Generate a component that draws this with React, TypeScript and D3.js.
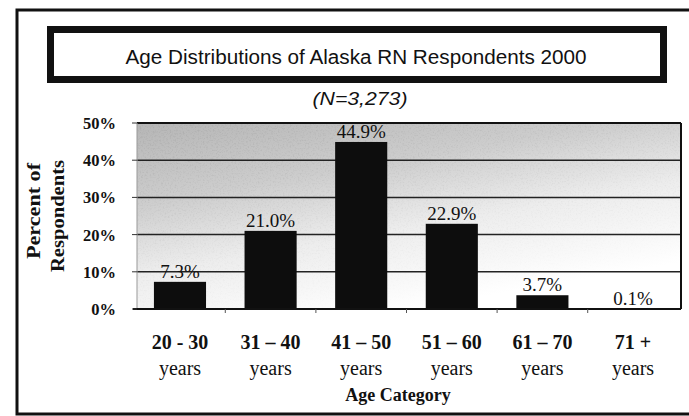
import React from "react";
import * as d3 from "d3";

const title = "Age Distributions of Alaska RN Respondents 2000";
const subtitle = "(N=3,273)";
const categories = ["20 - 30", "31 – 40", "41 – 50", "51 – 60", "61 – 70", "71 +"];
const categorySub = ["years", "years", "years", "years", "years", "years"];
const values = [7.3, 21.0, 44.9, 22.9, 3.7, 0.1];
const yTicks = [0, 10, 20, 30, 40, 50];
const yTitleLines = ["Percent of", "Respondents"];
const xTitle = "Age Category";

const W = 689;
const H = 416;
const plot = { left: 137, right: 681, top: 123, bottom: 309 };
const serif = "'Liberation Serif', 'Times New Roman', serif";
const sans = "'Liberation Sans', Arial, sans-serif";

export default function App() {
  const x = d3
    .scaleBand<string>()
    .domain(categories)
    .range([134, 679])
    .paddingInner(0.425)
    .paddingOuter(0.22);
  const y = d3.scaleLinear().domain([0, 50]).range([plot.bottom, plot.top]);
  const pw = plot.right - plot.left;
  const ph = plot.bottom - plot.top;

  return (
    <svg
      width={W}
      height={H}
      style={{ position: "absolute", left: 0, top: 0, background: "#fff" }}
    >
      <defs>
        <linearGradient id="bg" x1="0" y1="0" x2="0.5" y2="1">
          <stop offset="0%" stopColor="#b6b6b6" />
          <stop offset="35%" stopColor="#cdcdcd" />
          <stop offset="65%" stopColor="#ededed" />
          <stop offset="100%" stopColor="#ffffff" />
        </linearGradient>
        <linearGradient id="fade" x1="0" y1="0" x2="0.5" y2="1">
          <stop offset="0%" stopColor="#fff" stopOpacity="1" />
          <stop offset="55%" stopColor="#fff" stopOpacity="0.45" />
          <stop offset="100%" stopColor="#fff" stopOpacity="0" />
        </linearGradient>
        <mask id="noiseMask">
          <rect x={plot.left} y={plot.top} width={pw} height={ph} fill="url(#fade)" />
        </mask>
        <filter id="noise" x="0" y="0" width="100%" height="100%">
          <feTurbulence type="fractalNoise" baseFrequency="0.6" numOctaves="2" seed="3" result="t" />
          <feColorMatrix
            type="matrix"
            values="0 0 0 0 0.2  0 0 0 0 0.2  0 0 0 0 0.2  0 0 0 -3 1.55"
          />
        </filter>
      </defs>

      {/* outer frame */}
      <rect x={17} y={10} width={690} height={404} fill="none" stroke="#111" strokeWidth={3} />

      {/* title box */}
      <rect x={50.5} y={29.5} width={613} height={50} fill="#fff" stroke="#111" strokeWidth={7} />
      <text
        x={356}
        y={64}
        textAnchor="middle"
        fontFamily={sans}
        fontSize={20}
        fill="#111"
        textLength={461}
        lengthAdjust="spacingAndGlyphs"
      >
        {title}
      </text>
      <text
        x={360}
        y={105}
        textAnchor="middle"
        fontFamily={sans}
        fontStyle="italic"
        fontSize={18}
        fill="#111"
        textLength={95}
        lengthAdjust="spacingAndGlyphs"
      >
        {subtitle}
      </text>

      {/* plot background */}
      <rect x={plot.left} y={plot.top} width={pw} height={ph} fill="url(#bg)" />
      <rect
        x={plot.left}
        y={plot.top}
        width={pw}
        height={ph}
        filter="url(#noise)"
        opacity={0.18}
        mask="url(#noiseMask)"
      />

      {/* gridlines */}
      {yTicks
        .filter((t) => t > 0 && t < 50)
        .map((t) => (
          <line
            key={"g" + t}
            x1={plot.left}
            x2={plot.right}
            y1={y(t)}
            y2={y(t)}
            stroke="#222"
            strokeWidth={1.5}
          />
        ))}

      {/* plot border */}
      <line x1={plot.left} x2={plot.right} y1={plot.top} y2={plot.top} stroke="#111" strokeWidth={2} />
      <line x1={plot.right} x2={plot.right} y1={plot.top} y2={plot.bottom} stroke="#111" strokeWidth={2} />
      <line x1={plot.left} x2={plot.left} y1={plot.top} y2={plot.bottom} stroke="#999" strokeWidth={1} />

      {/* bars */}
      {categories.map((c, i) => (
        <rect
          key={"b" + c}
          x={x(c)}
          y={y(values[i])}
          width={x.bandwidth()}
          height={y(0) - y(values[i])}
          fill="#0d0d0d"
        />
      ))}

      {/* axis line */}
      <line x1={plot.left - 4} x2={plot.right} y1={plot.bottom} y2={plot.bottom} stroke="#111" strokeWidth={2} />

      {/* y ticks and labels */}
      {yTicks.map((t) => (
        <g key={"y" + t}>
          <line x1={plot.left - 5} x2={plot.left} y1={y(t)} y2={y(t)} stroke="#333" strokeWidth={1} />
          <text
            x={116}
            y={y(t)}
            dy="0.36em"
            textAnchor="end"
            fontFamily={serif}
            fontWeight="bold"
            fontSize={16.5}
            fill="#111"
          >
            {t + "%"}
          </text>
        </g>
      ))}

      {/* x ticks */}
      {categories.slice(0, -1).map((c) => {
        const bx = (x(c) as number) + x.step() - (x.step() - x.bandwidth()) / 2;
        return (
          <line key={"xt" + c} x1={bx} x2={bx} y1={plot.bottom} y2={plot.bottom + 4} stroke="#555" strokeWidth={1} />
        );
      })}

      {/* value labels */}
      {categories.map((c, i) => (
        <text
          key={"v" + c}
          x={(x(c) as number) + x.bandwidth() / 2}
          y={y(values[i]) - 4}
          textAnchor="middle"
          fontFamily={serif}
          fontSize={19}
          fill="#111"
        >
          {values[i].toFixed(1) + "%"}
        </text>
      ))}

      {/* x category labels */}
      {categories.map((c, i) => (
        <g key={"xl" + c}>
          <text
            x={(x(c) as number) + x.bandwidth() / 2}
            y={349}
            textAnchor="middle"
            fontFamily={serif}
            fontWeight="bold"
            fontSize={20}
            fill="#111"
          >
            {c}
          </text>
          <text
            x={(x(c) as number) + x.bandwidth() / 2}
            y={375}
            textAnchor="middle"
            fontFamily={serif}
            fontSize={20}
            fill="#111"
          >
            {categorySub[i]}
          </text>
        </g>
      ))}

      {/* axis titles */}
      <text
        x={398}
        y={401}
        textAnchor="middle"
        fontFamily={serif}
        fontWeight="bold"
        fontSize={18}
        fill="#111"
      >
        {xTitle}
      </text>
      {yTitleLines.map((l, i) => (
        <text
          key={"yt" + i}
          transform={`translate(${i === 0 ? 40 : 64}, ${i === 0 ? 211 : 216}) rotate(-90)`}
          textAnchor="middle"
          fontFamily={serif}
          fontWeight="bold"
          fontSize={19}
          fill="#111"
          textLength={i === 0 ? 96 : 112}
          lengthAdjust="spacingAndGlyphs"
        >
          {l}
        </text>
      ))}
    </svg>
  );
}
